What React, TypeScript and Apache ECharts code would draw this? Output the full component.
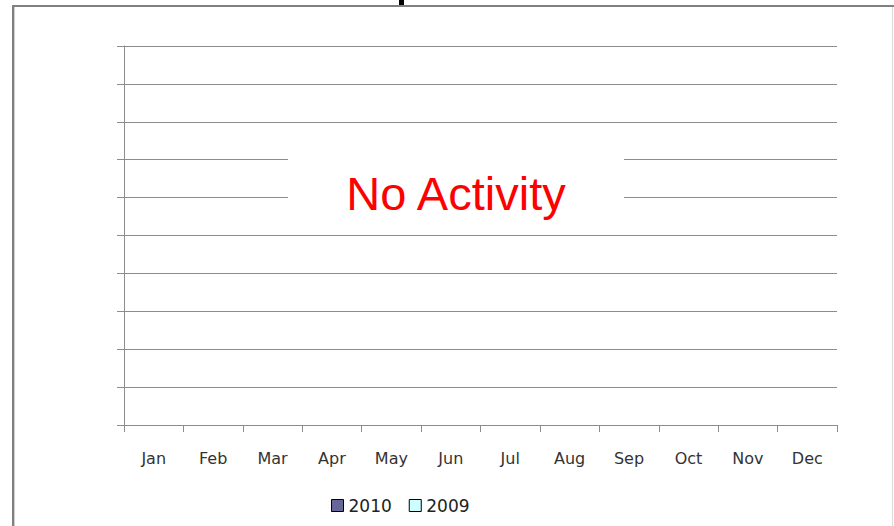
import React, { useEffect, useRef } from "react";
import * as echarts from "echarts";

const months = ["Jan", "Feb", "Mar", "Apr", "May", "Jun", "Jul", "Aug", "Sep", "Oct", "Nov", "Dec"];
const series2010 = [0, 0, 0, 0, 0, 0, 0, 0, 0, 0, 0, 0];
const series2009 = [0, 0, 0, 0, 0, 0, 0, 0, 0, 0, 0, 0];
const seriesNames = ["2010", "2009"];
const seriesColors = ["#666699", "#CCFFFF"];
const noDataText = "No Activity";

export default function App() {
  const ref = useRef<HTMLDivElement>(null);
  useEffect(() => {
    if (!ref.current) return;
    const chart = echarts.init(ref.current, undefined, { renderer: "svg" });
    const gridColor = "#8c8c8c";
    chart.setOption({
      animation: false,
      backgroundColor: "#ffffff",
      grid: { left: 124, right: 57, top: 46, bottom: 101, containLabel: false },
      legend: {
        data: seriesNames,
        left: 326,
        top: 492,
        itemWidth: 12,
        itemHeight: 12,
        itemGap: 17,
        icon: "rect",
        itemStyle: { borderColor: "#000000", borderWidth: 1 },
        textStyle: { fontFamily: "DejaVu Sans", fontSize: 17, color: "#222222" },
      },
      xAxis: {
        type: "category",
        data: months,
        boundaryGap: true,
        axisLine: { lineStyle: { color: gridColor, width: 1 } },
        axisTick: { show: true, length: 7, lineStyle: { color: gridColor } },
        axisLabel: { fontFamily: "DejaVu Sans", fontSize: 16, color: "#333333", margin: 25 },
      },
      yAxis: {
        type: "value",
        min: 0,
        max: 10,
        interval: 1,
        axisLine: { show: true, lineStyle: { color: gridColor, width: 1 } },
        axisTick: { show: true, length: 7, lineStyle: { color: gridColor } },
        axisLabel: { show: false },
        splitLine: { show: true, lineStyle: { color: gridColor, width: 1 } },
      },
      series: [
        { name: seriesNames[0], type: "bar", data: series2010, itemStyle: { color: seriesColors[0] } },
        { name: seriesNames[1], type: "bar", data: series2009, itemStyle: { color: seriesColors[1] } },
      ],
      graphic: [
        { type: "rect", shape: { x: 12, y: 5, width: 2, height: 530 }, style: { fill: "#808080" }, z: 100 },
        { type: "rect", shape: { x: 14, y: 7, width: 1, height: 530 }, style: { fill: "#d0d0d0" }, z: 100 },
        { type: "rect", shape: { x: 12, y: 5, width: 890, height: 2 }, style: { fill: "#808080" }, z: 100 },
        { type: "rect", shape: { x: 892, y: 7, width: 1, height: 530 }, style: { fill: "#dcdcdc" }, z: 100 },
        { type: "rect", shape: { x: 399, y: 0, width: 5, height: 5 }, style: { fill: "#000000" }, z: 100 },
        { type: "rect", shape: { x: 288, y: 132, width: 336, height: 92 }, style: { fill: "#ffffff" }, z: 100 },
        {
          type: "text",
          x: 456,
          y: 193,
          z: 101,
          style: {
            text: noDataText,
            fill: "#ff0000",
            fontFamily: "Liberation Sans",
            fontSize: 47,
            align: "center",
            verticalAlign: "middle",
          },
        },
      ],
    });
    return () => chart.dispose();
  }, []);
  return (
    <div
      ref={ref}
      style={{ position: "absolute", left: 0, top: 0, width: 894, height: 526 }}
    />
  );
}
